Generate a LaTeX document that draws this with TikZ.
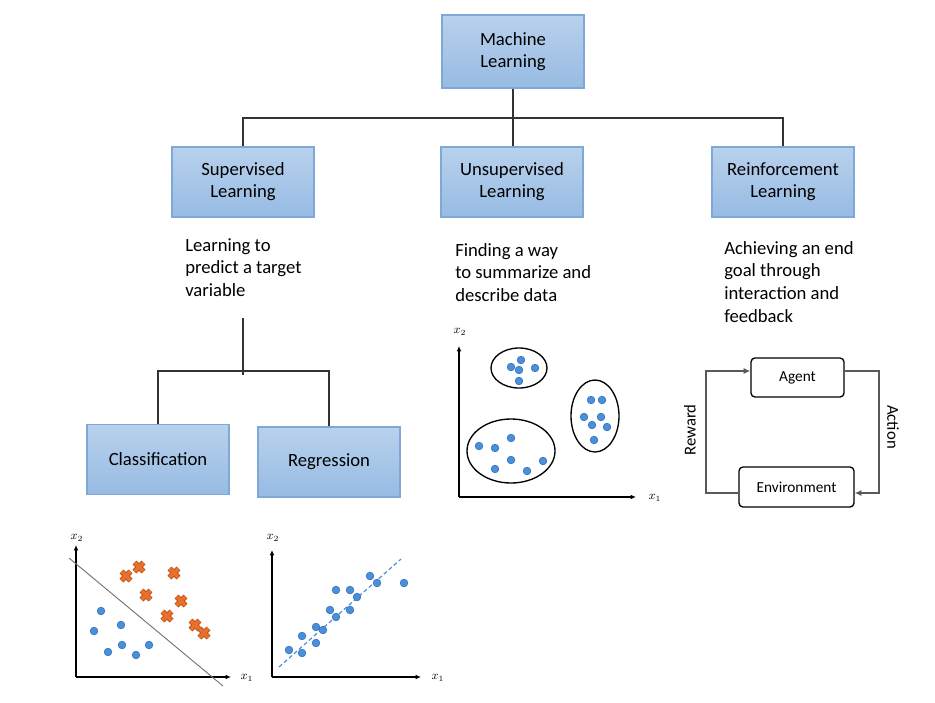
\documentclass[tikz,border=0pt]{standalone}
\usepackage{fontspec}
\setmainfont{Carlito}
\usetikzlibrary{arrows.meta,calc}
\definecolor{boxtop}{HTML}{B8D1EC}
\definecolor{boxbot}{HTML}{97BBE3}
\definecolor{boxedge}{HTML}{7FA7D7}
\definecolor{dotblue}{HTML}{4A90D9}
\definecolor{dotedge}{HTML}{2F6DB5}
\definecolor{xorange}{HTML}{E8702A}
\definecolor{xedge}{HTML}{B5501A}
\begin{document}
\begin{tikzpicture}[x=0.75pt,y=-0.75pt,
  mlbox/.style={draw=boxedge, line width=0.8pt, top color=boxtop, bottom color=boxbot,
    minimum width=106.5pt, minimum height=52.5pt, align=center,
    font=\fontsize{14}{16.5}\selectfont, inner sep=0pt},
  conn/.style={draw=black!80, line width=1.1pt},
  desc/.style={align=left, anchor=north west, font=\fontsize{14}{17}\selectfont, inner sep=0pt},
  rlbox/.style={draw=black, line width=1pt, rounded corners=3pt, fill=white,
    font=\fontsize{11.5}{13}\selectfont, inner sep=0pt},
  rline/.style={draw=black!65, line width=0.9pt},
  rarrow/.style={-{Latex[length=5pt,width=4.5pt]}},
  axis/.style={draw=black, line width=1pt, -{Latex[length=4pt,width=3.5pt]}},
  axlab/.style={font=\small, inner sep=0pt},
  sidelab/.style={font=\fontsize{12.5}{14}\selectfont, inner sep=0pt},
]
\useasboundingbox (0,0) rectangle (935,703);

% ---- top hierarchy ----
\node[mlbox, minimum height=54.75pt] (ml) at (513,51.5) {Machine\\Learning};
\node[mlbox] (sup) at (243,182) {Supervised\\Learning};
\node[mlbox] (uns) at (512,182) {Unsupervised\\Learning};
\node[mlbox] (rei) at (783,182) {Reinforcement\\Learning};
\coordinate (hub) at (513,118);
\draw[conn] (ml.south) -- (ml.south |- uns.north);
\draw[conn] (sup.north) |- (hub) -| (rei.north);

% ---- descriptions ----
\node[desc] (supd) at (185,238) {Learning to\\predict a target\\variable};
\node[desc] (unsd) at (455,243) {Finding a way\\to summarize and\\describe data};
\node[desc] (reid) at (724,241) {Achieving an end\\goal through\\interaction and\\feedback};

% ---- supervised sub-tree ----
\coordinate (st) at (243,318);
\coordinate (sb) at (243,375);
\coordinate (sj) at (243,371);
\node[mlbox] (cls) at (158,459.5) {Classification};
\node[mlbox] (reg) at (329,462) {Regression};
\draw[conn] (st) -- (sb);
\draw[conn] (cls.north) -- (cls.north |- sj) -- (reg.north |- sj) -- (reg.north);

% ---- plot 1: classification ----
\node[axlab] (p1y) at (77,538) {$x_2$};
\node[axlab] (p1x) at (247,678) {$x_1$};
\draw[axis] (76,677) -- (76,545);
\draw[axis] (76,677) -- (231,677);
\draw[black!55, line width=0.7pt] (69,558) -- (223,686);
\foreach \a/\b in {126/576,139/567,174/573,146/595,181/601,167/616,195/625,204/633}{
  \draw[xedge, line width=4.2pt] (\a-4.5,\b-4.5) -- (\a+4.5,\b+4.5) (\a-4.5,\b+4.5) -- (\a+4.5,\b-4.5);
  \draw[xorange, line width=2.8pt] (\a-4.5,\b-4.5) -- (\a+4.5,\b+4.5) (\a-4.5,\b+4.5) -- (\a+4.5,\b-4.5);
}
\foreach \a/\b in {101/611,94/631,121/625,108/652,122/645,136/655,149/645}{
  \fill[dotblue, draw=dotedge, line width=0.4pt] (\a,\b) circle[radius=2.9pt];
}

% ---- plot 2: regression ----
\node[axlab] (p2y) at (273,538) {$x_2$};
\node[axlab] (p2x) at (438,678) {$x_1$};
\draw[axis] (272,677) -- (272,550);
\draw[axis] (272,677) -- (421,677);
\draw[dotblue, line width=0.9pt, dash pattern=on 3pt off 2pt] (279,667) -- (401,559);
\foreach \a/\b in {289/650,302/653,302/636,316/643,316/627,323/630,330/610,336/617,336/590,350/610,350/590,357/597,370/576,377/583,404/583}{
  \fill[dotblue, draw=dotedge, line width=0.4pt] (\a,\b) circle[radius=2.9pt];
}

% ---- plot 3: clustering ----
\node[axlab] (p3y) at (460,332) {$x_2$};
\node[axlab] (p3x) at (655,498) {$x_1$};
\draw[axis] (459,497) -- (459,346);
\draw[axis] (459,497) -- (636,497);
\draw[black, line width=1pt] (519,368) ellipse[x radius=21pt, y radius=15pt];
\draw[black, line width=1pt] (511,451) ellipse[x radius=33pt, y radius=24pt];
\draw[black, line width=1pt] (595,416) ellipse[x radius=18pt, y radius=27pt];
\foreach \a/\b in {511/367,521/360,519/370,535/368,519/381,
                   591/400,602/400,584/417,601/417,592/425,607/427,594/440,
                   479/446,495/448,511/438,511/460,495/469,527/471,543/461}{
  \fill[dotblue, draw=dotedge, line width=0.4pt] (\a,\b) circle[radius=2.9pt];
}

% ---- reinforcement loop ----
\node[rlbox, minimum width=69.75pt, minimum height=29.25pt] (agent) at (797.5,377.5) {Agent};
\node[rlbox, minimum width=86.25pt, minimum height=30pt] (env) at (796.5,487) {Environment};
\coordinate (rlc) at (706,371);
\coordinate (rrc) at (879,493);
\draw[rline, rarrow] ($(env.west)+(0,6)$) -| (rlc) -- (agent.west |- rlc);
\draw[rline, rarrow] (agent.east |- rlc) -| (rrc) -- (env.east |- rrc);
\node[sidelab, rotate=90] (rew) at (690,430) {Reward};
\node[sidelab, rotate=-90] (act) at (893,427) {Action};
\end{tikzpicture}
\end{document}
